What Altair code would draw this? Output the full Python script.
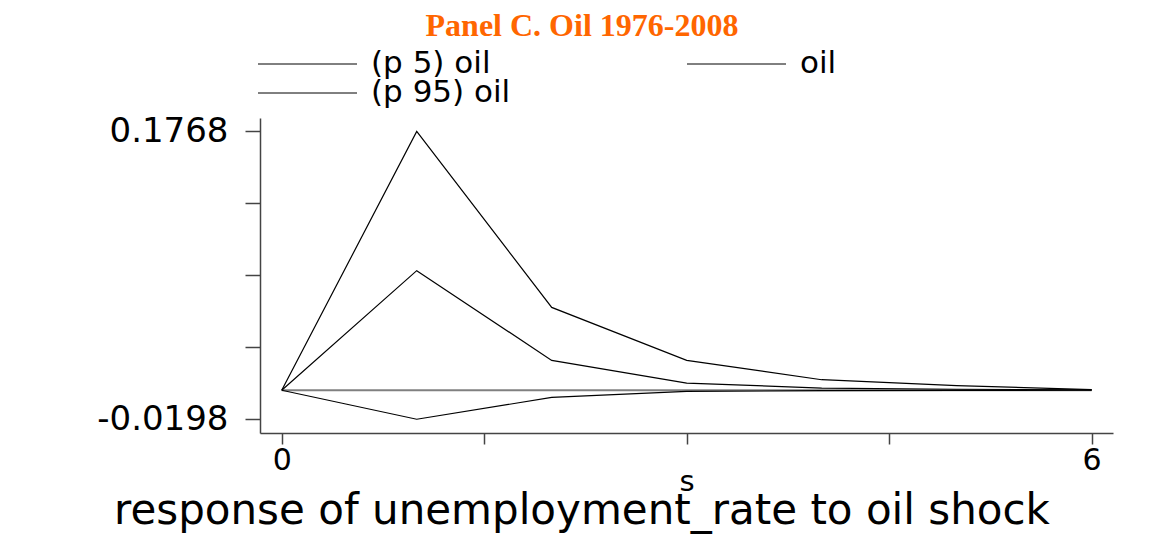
import altair as alt
import pandas as pd

# ---- data ----
steps = [0, 1, 2, 3, 4, 5, 6]
p5_oil = [0.0, -0.0198, -0.0049, -0.0008, -0.0003, -0.0001, 0.0]
oil = [0.0, 0.0817, 0.0204, 0.0049, 0.0015, 0.0007, 0.0003]
p95_oil = [0.0, 0.1768, 0.0566, 0.0204, 0.0072, 0.0031, 0.0005]
series_names = ["(p 5) oil", "oil", "(p 95) oil"]
zero_line_s = [0, 6]
zero_line_v = [0.0, 0.0]
y_ticks = [-0.0198, 0.02935, 0.0785, 0.12765, 0.1768]
x_ticks = [0, 1.5, 3, 4.5, 6]
title_text = "Panel C. Oil 1976-2008"
note_text = "response of unemployment_rate to oil shock"
x_title = "s"

rows = []
for name, vals in zip(series_names, [p5_oil, oil, p95_oil]):
    for s, v in zip(steps, vals):
        rows.append({"s": s, "value": v, "series": name})
df = pd.DataFrame(rows)
zero_df = pd.DataFrame({"s": zero_line_s, "value": zero_line_v})

XDOM = [-0.161, 6.158]
YDOM = [-0.0292, 0.186]
FONT = "DejaVu Sans"
AXC = "#444444"

xscale = alt.Scale(domain=XDOM, nice=False, zero=False)
yscale = alt.Scale(domain=YDOM, nice=False, zero=False)

x_axis = alt.Axis(values=x_ticks, grid=False, tickSize=11,
                  labelExpr="datum.value == 0 || datum.value == 6 ? format(datum.value, 'd') : ''",
                  labelFontSize=30, labelFont=FONT, labelColor="black", labelPadding=1,
                  titleFont=FONT, titleFontSize=29, titleFontWeight="normal",
                  titleColor="black", titleBaseline="alphabetic", titleY=57,
                  domainColor=AXC, domainWidth=1.5, tickColor=AXC, tickWidth=1.5)
y_axis = alt.Axis(values=y_ticks, grid=False, tickSize=15,
                  labelExpr="datum.value < 0 || datum.value > 0.17 ? replace(format(datum.value, '.4f'), '\u2212', '-') : ''",
                  labelFontSize=34, labelFont=FONT, labelColor="black", labelPadding=17,
                  domainColor=AXC, domainWidth=1.5, tickColor=AXC, tickWidth=1.5)

zero = alt.Chart(zero_df).mark_line(color="#808080", strokeWidth=2).encode(
    x=alt.X("s:Q", scale=xscale, title=x_title, axis=x_axis),
    y=alt.Y("value:Q", scale=yscale, title=None, axis=y_axis),
)

lines = alt.Chart(df).mark_line(color="black", strokeWidth=1.2).encode(
    x=alt.X("s:Q", scale=xscale, title=x_title, axis=x_axis),
    y=alt.Y("value:Q", scale=yscale, title=None, axis=y_axis),
    detail="series:N",
)

main = alt.layer(zero, lines)

# legend built from the series names
leg = alt.Chart(pd.DataFrame({"series": series_names})).transform_window(
    idx="row_number()"
).transform_calculate(
    col="(datum.idx - 1) % 2",
    row="floor((datum.idx - 1) / 2)",
).transform_calculate(
    lx="-2 + datum.col * 429",
    ly="-54 + datum.row * 29",
).transform_calculate(
    lx2="datum.lx + 99",
    tx="datum.lx + 113",
)
leg_rules = leg.mark_rule(color="black", strokeWidth=1).encode(
    x=alt.X("lx:Q", scale=None, axis=None),
    x2="lx2:Q",
    y=alt.Y("ly:Q", scale=None, axis=None),
)
leg_text = leg.mark_text(align="left", baseline="middle", font=FONT, fontSize=31, color="black").encode(
    x=alt.X("tx:Q", scale=None, axis=None),
    y=alt.Y("ly:Q", scale=None, axis=None),
    text="series:N",
)

title = alt.Chart(pd.DataFrame({"t": [title_text]})).mark_text(
    align="center", baseline="alphabetic", font="Liberation Serif", fontWeight="bold",
    fontSize=32, color="#FF6600"
).encode(x=alt.value(322), y=alt.value(-82), text="t:N")

note = alt.Chart(pd.DataFrame({"t": [note_text]})).mark_text(
    align="center", baseline="alphabetic", font=FONT, fontSize=42, color="black"
).encode(x=alt.value(322), y=alt.value(406), text="t:N")

chart = alt.layer(main, leg_rules, leg_text, title, note).resolve_scale(
    x="independent", y="independent"
).properties(
    width=853, height=315,
    autosize=alt.AutoSizeParams(type="none"),
    padding={"left": 252, "top": 110, "right": 49, "bottom": 104},
).configure(background="white", view=alt.ViewConfig(stroke=None))

chart.save("out.html", embed_options={"renderer": "svg", "actions": False})
